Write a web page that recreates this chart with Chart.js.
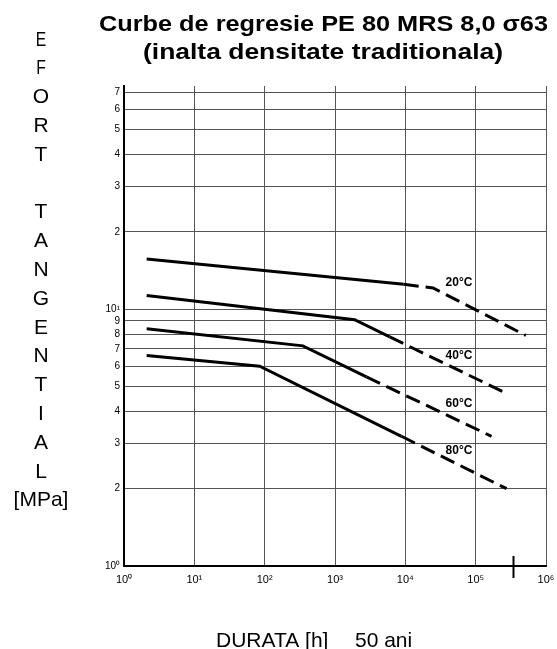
<!DOCTYPE html>
<html>
<head>
<meta charset="utf-8">
<title>Curbe de regresie PE 80</title>
<script src="https://cdn.jsdelivr.net/npm/chart.js@4/dist/chart.umd.min.js"></script>
<style>
  html, body { margin: 0; padding: 0; background: #fff; }
  canvas { display: block; }
</style>
</head>
<body>
<canvas id="regressionChart" width="557" height="649"></canvas>
<script>
// Regression curves (hours vs MPa)
const hours20 = [2.1, 9500, 24800, 517000];
const stress20 = [15.7, 12.5, 12.1, 7.9];
const hours40 = [2.1, 1900, 6000, 275000];
const stress40 = [11.3, 9.1, 7.8, 4.7];
const hours60 = [2.1, 350, 2800, 168000];
const stress60 = [8.4, 7.2, 5.45, 3.2];
const hours80 = [2.1, 85, 8800, 275000];
const stress80 = [6.6, 6.0, 3.2, 2.0];

// index of the first dashed segment (extrapolated part) for each curve
const dashFrom = [1, 2, 2, 2];

const curveNames = ['20°C', '40°C', '60°C', '80°C'];
const labelHours = [58000, 58000, 58000, 58000];
const labelStress = [12.7, 6.6, 4.3, 2.8];

const xTicks = [1, 10, 100, 1000, 1e4, 1e5, 1e6];
const xTickLabels = ['10⁰', '10¹', '10²', '10³', '10⁴', '10⁵', '10⁶'];
const yTicks = [1, 2, 3, 4, 5, 6, 7, 8, 9, 10, 20, 30, 40, 50, 60, 70];
const yTickLabels = ['10⁰', '2', '3', '4', '5', '6', '7', '8', '9', '10¹', '2', '3', '4', '5', '6', '7'];
const yMin = 1, yMax = 74;

const fiftyYearsHours = 335000;

const titleLines = ['Curbe de regresie PE 80 MRS 8,0 σ63', '(inalta densitate traditionala)'];
const yTitleLetters = ['E', 'F', 'O', 'R', 'T', '', 'T', 'A', 'N', 'G', 'E', 'N', 'T', 'I', 'A', 'L', '[MPa]'];
const xTitleParts = ['DURATA [h]', '50 ani'];

const FONT = "'Liberation Sans', Arial, Helvetica, sans-serif";

function makeCurve(hours, stress, k) {
  return {
    label: curveNames[k],
    data: hours.map((h, i) => ({ x: h, y: stress[i] })),
    borderColor: '#000',
    borderWidth: 3,
    borderCapStyle: 'butt',
    pointRadius: 0,
    tension: 0,
    segment: {
      borderDash: ctx => ctx.p0DataIndex >= dashFrom[k] ? [15, 7] : []
    }
  };
}

const textPlugin = {
  id: 'textPlugin',
  afterDraw(chart) {
    const { ctx, scales: { x, y }, chartArea } = chart;
    ctx.save();
    ctx.fillStyle = '#000';

    // title, two bold lines, slightly stretched like the scan
    ctx.font = 'bold 22px ' + FONT;
    ctx.textAlign = 'center';
    ctx.textBaseline = 'alphabetic';
    const titleSpec = [[323.5, 31, 449], [323, 59, 360]];
    titleLines.forEach((line, i) => {
      const [cx, by, w] = titleSpec[i];
      const sx = w / ctx.measureText(line).width;
      ctx.save();
      ctx.translate(cx, by);
      ctx.scale(sx, 1);
      ctx.fillText(line, 0, 0);
      ctx.restore();
    });

    // stacked y axis title
    ctx.font = '21px ' + FONT;
    yTitleLetters.forEach((ch, i) => {
      if (!ch) return;
      ctx.save();
      ctx.translate(41, 45.5 + i * 28.8);
      if (i < 2) ctx.scale(0.75, 1);
      ctx.fillText(ch, 0, 0);
      ctx.restore();
    });

    // x axis title
    ctx.textAlign = 'left';
    ctx.fillText(xTitleParts[0], 216, 647);
    ctx.fillText(xTitleParts[1], 355, 647);

    // curve labels
    ctx.font = 'bold 12px ' + FONT;
    ctx.textAlign = 'center';
    ctx.textBaseline = 'middle';
    curveNames.forEach((name, i) => {
      ctx.fillText(name, x.getPixelForValue(labelHours[i]), y.getPixelForValue(labelStress[i]));
    });

    // 50 year marker on the time axis
    const mx = Math.round(x.getPixelForValue(fiftyYearsHours)) + 0.5;
    ctx.strokeStyle = '#000';
    ctx.lineWidth = 2;
    ctx.beginPath();
    ctx.moveTo(mx, chartArea.bottom - 10);
    ctx.lineTo(mx, chartArea.bottom + 12);
    ctx.stroke();
    ctx.restore();
  }
};

new Chart(document.getElementById('regressionChart'), {
  type: 'line',
  data: {
    datasets: [
      makeCurve(hours20, stress20, 0),
      makeCurve(hours40, stress40, 1),
      makeCurve(hours60, stress60, 2),
      makeCurve(hours80, stress80, 3)
    ]
  },
  options: {
    responsive: false,
    animation: false,
    layout: { padding: { left: 0, top: 86, right: 11, bottom: 0 } },
    plugins: {
      legend: { display: false },
      tooltip: { enabled: false },
      title: { display: false }
    },
    scales: {
      x: {
        type: 'logarithmic',
        min: 1,
        max: 1e6,
        afterBuildTicks: scale => { scale.ticks = xTicks.map(v => ({ value: v })); },
        afterFit: scale => {
          scale.height = 83;
          scale.paddingLeft = 0;
          scale.paddingRight = 0;
        },
        grid: { color: '#555', lineWidth: 1, drawTicks: false },
        border: { display: true, color: '#000', width: 2 },
        ticks: {
          autoSkip: false,
          maxRotation: 0,
          padding: 7,
          color: '#000',
          font: { family: FONT, size: 11 },
          callback: (v, i) => xTickLabels[i]
        }
      },
      y: {
        type: 'logarithmic',
        min: yMin,
        max: yMax,
        afterBuildTicks: scale => { scale.ticks = yTicks.map(v => ({ value: v })); },
        afterFit: scale => { scale.width = 124; },
        grid: { color: '#555', lineWidth: 1, drawTicks: false },
        border: { display: true, color: '#000', width: 2 },
        ticks: {
          autoSkip: false,
          padding: 4,
          color: '#000',
          font: { family: FONT, size: 10 },
          callback: (v, i) => yTickLabels[i]
        }
      }
    }
  },
  plugins: [textPlugin]
});
</script>
</body>
</html>
